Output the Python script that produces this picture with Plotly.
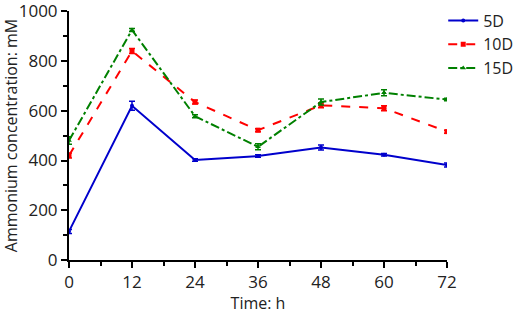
import plotly.graph_objects as go

hours = [0, 12, 24, 36, 48, 60, 72]
s5d = [115, 620, 402, 418, 452, 423, 382]
s5d_err = [8, 18, 5, 5, 10, 5, 8]
s10d = [420, 840, 635, 522, 622, 610, 516]
s10d_err = [10, 10, 8, 6, 10, 10, 6]
s15d = [480, 925, 578, 455, 635, 672, 645]
s15d_err = [15, 6, 6, 12, 12, 12, 5]

fig = go.Figure()
fig.add_trace(go.Scatter(x=hours, y=s5d, name="5D", mode="lines+markers",
    line=dict(color="#0000CC", width=2, dash="solid"),
    marker=dict(symbol="circle", size=4, color="#0000CC"),
    error_y=dict(type="data", array=s5d_err, color="#0000CC", thickness=1.5, width=3)))
fig.add_trace(go.Scatter(x=hours, y=s10d, name="10D", mode="lines+markers",
    line=dict(color="#FF0000", width=2, dash="dash"),
    marker=dict(symbol="square", size=5, color="#FF0000"),
    error_y=dict(type="data", array=s10d_err, color="#FF0000", thickness=1.5, width=3)))
fig.add_trace(go.Scatter(x=hours, y=s15d, name="15D", mode="lines+markers",
    line=dict(color="#008000", width=2, dash="dashdot"),
    marker=dict(symbol="triangle-up", size=5, color="#008000"),
    error_y=dict(type="data", array=s15d_err, color="#008000", thickness=1.5, width=3)))

fig.update_layout(
    width=520, height=314,
    margin=dict(l=69, r=73, t=11, b=54, autoexpand=False),
    paper_bgcolor="white", plot_bgcolor="white",
    font=dict(family="Open Sans", size=17, color="#222222"),
    legend=dict(x=0.99, y=1.03, xanchor="left", yanchor="top",
                font=dict(size=16), bgcolor="rgba(0,0,0,0)", itemwidth=30),
    showlegend=True,
)
fig.update_xaxes(range=[0, 72], tickvals=hours, showgrid=False, zeroline=False,
    showline=True, linecolor="black", linewidth=2, ticks="outside", ticklen=6,
    tickwidth=2, tickcolor="black", tickfont=dict(size=17),
    minor=dict(ticks="outside", ticklen=4, tickwidth=2, tickcolor="black", dtick=6, tick0=0),
    title=dict(text="Time: h", font=dict(size=16), standoff=4))
fig.update_yaxes(range=[0, 1001], tickvals=[0, 200, 400, 600, 800, 1000], showgrid=False,
    zeroline=False, showline=True, linecolor="black", linewidth=2, ticks="outside",
    ticklen=6, tickwidth=2, tickcolor="black", tickfont=dict(size=17),
    ticklabeloverflow="allow",
    minor=dict(ticks="outside", ticklen=4, tickwidth=2, tickcolor="black", dtick=100, tick0=0),
    title=dict(text="Ammonium concentration: mM", font=dict(size=16), standoff=2))

fig.write_html("out.html")
